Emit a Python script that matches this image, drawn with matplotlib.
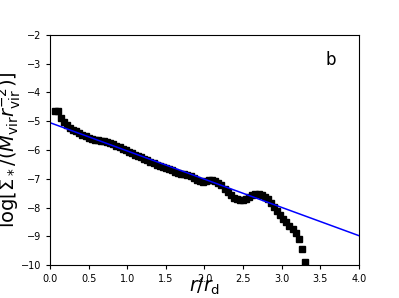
import numpy as np
import matplotlib
matplotlib.use("Agg")
import matplotlib.pyplot as plt

r = np.round(np.arange(0.06, 3.3001, 0.04), 2)
logsigma = [-4.64, -4.66, -4.88, -5.02, -5.14, -5.22, -5.29, -5.35, -5.41, -5.47,
            -5.53, -5.58, -5.62, -5.64, -5.66, -5.68, -5.70, -5.73, -5.76, -5.80,
            -5.85, -5.90, -5.95, -6.00, -6.06, -6.11, -6.17, -6.22, -6.26, -6.31,
            -6.36, -6.41, -6.46, -6.51, -6.55, -6.58, -6.62, -6.66, -6.71, -6.76,
            -6.80, -6.83, -6.85, -6.87, -6.90, -6.97, -7.03, -7.08, -7.10, -7.09,
            -7.06, -7.05, -7.08, -7.14, -7.23, -7.34, -7.46, -7.57, -7.66, -7.72,
            -7.75, -7.74, -7.70, -7.64, -7.57, -7.54, -7.53, -7.56, -7.62, -7.72,
            -7.85, -7.99, -8.13, -8.27, -8.40, -8.52, -8.63, -8.74, -8.88, -9.10,
            -9.44, -9.90]
fit_r = [0.0, 4.0]
fit_y = [-5.05, -8.98]

fig = plt.figure(figsize=(3.99, 2.98), dpi=100)
ax = fig.add_axes([0.1253, 0.1107, 0.7744, 0.7719])
ax.plot(r, logsigma, 's', color='black', markersize=4.0, linestyle='none')
ax.plot(fit_r, fit_y, color='blue', linewidth=1.1)
ax.set_xlim(0, 4)
ax.set_ylim(-10, -2)
ax.set_xticks(np.arange(0, 4.01, 0.5))
ax.set_yticks(np.arange(-10, -1.9, 1))
ax.tick_params(labelsize=7, length=3)
ax.set_xlabel(r'$r/r_{\rm d}$', fontsize=13.5, va='baseline')
ax.xaxis.set_label_coords(0.5, -0.115)
ax.set_ylabel(r'$\log[\Sigma_*/(M_{\rm vir}r_{\rm vir}^{-2})]$', fontsize=14)
ax.yaxis.set_label_coords(-0.088, 0.5)
ax.text(0.91, 0.89, 'b', transform=ax.transAxes, fontsize=12, ha='center', va='center')
fig.savefig('out.png', dpi=100)
